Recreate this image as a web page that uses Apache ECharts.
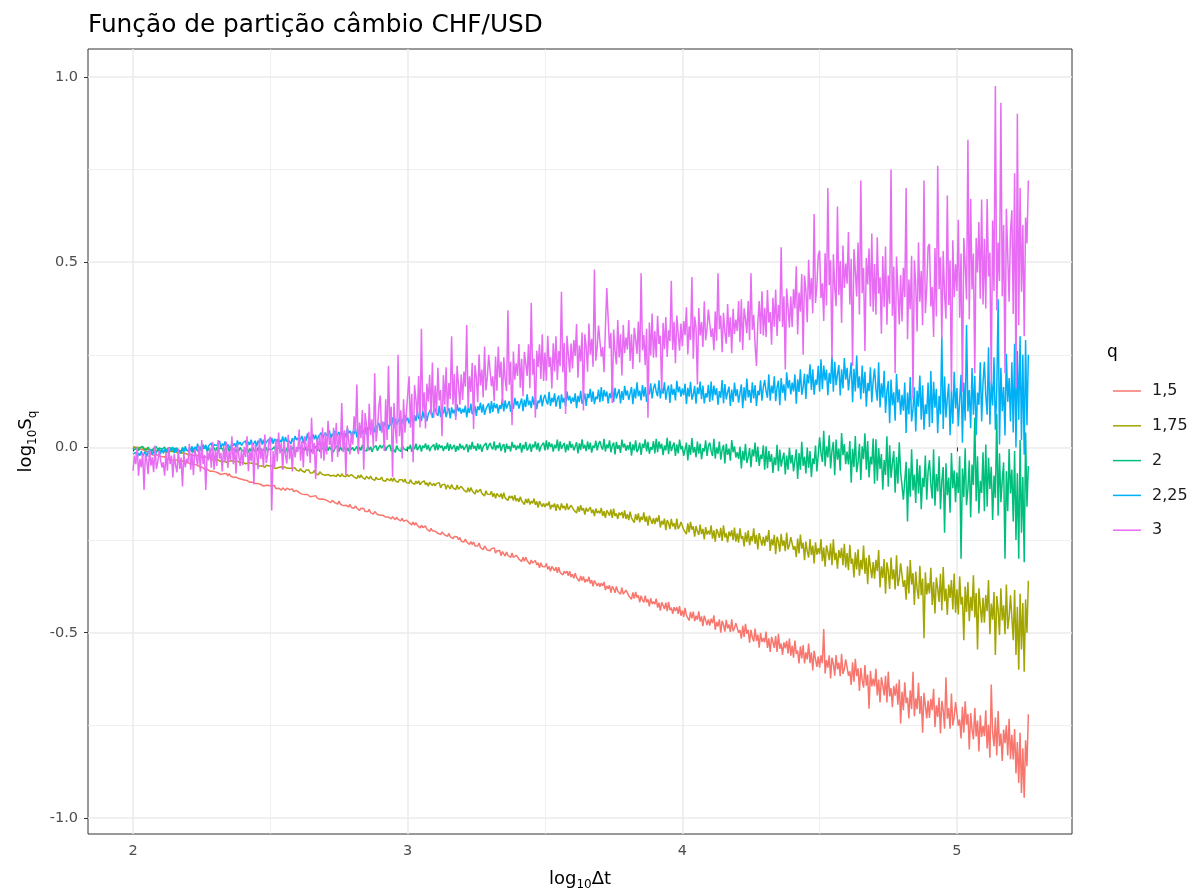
<!DOCTYPE html>
<html>
<head>
<meta charset="utf-8">
<script src="https://cdn.jsdelivr.net/npm/echarts@6/dist/echarts.min.js"></script>
<style>
  html, body { margin: 0; padding: 0; background: #ffffff; }
  #chart { width: 1197px; height: 896px; }
</style>
</head>
<body>
<div id="chart"></div>
<script>
// Partition function log10 S_q versus log10 Δt, one curve per moment q.
// Every curve is sampled on the same log10 Δt grid: 2.000, 2.005, ... 5.260
// (one line of 20 values per 0.1 of log10 Δt).
const X_START = 2.0;
const X_STEP = 0.005;

const qLabels = ['1,5', '1,75', '2', '2,25', '3'];
const qColors = ['#F8766D', '#A3A500', '#00BF7D', '#00B0F6', '#E76BF3'];

const xTicks = [2, 3, 4, 5];
const xMinorTicks = [2.5, 3.5, 4.5];
const yTicks = [-1, -0.5, 0, 0.5, 1];
const yMinorTicks = [-0.75, -0.25, 0.25, 0.75];

// q = 1,5
const s150 = [
  0.001,-0.003,0.000,-0.005,-0.005,-0.009,-0.005,-0.009,-0.008,-0.013,-0.011,-0.014,-0.011,-0.018,-0.016,-0.021,-0.017,-0.020,-0.024,-0.022,
  -0.027,-0.025,-0.027,-0.025,-0.031,-0.029,-0.031,-0.029,-0.035,-0.032,-0.034,-0.037,-0.034,-0.038,-0.037,-0.041,-0.036,-0.041,-0.041,-0.040,
  -0.041,-0.045,-0.045,-0.048,-0.045,-0.050,-0.047,-0.051,-0.051,-0.056,-0.053,-0.056,-0.058,-0.055,-0.059,-0.059,-0.064,-0.060,-0.064,-0.063,
  -0.066,-0.063,-0.069,-0.067,-0.073,-0.068,-0.071,-0.074,-0.070,-0.077,-0.071,-0.077,-0.076,-0.081,-0.077,-0.080,-0.079,-0.084,-0.079,-0.086,
  -0.084,-0.088,-0.084,-0.089,-0.089,-0.094,-0.089,-0.094,-0.090,-0.097,-0.094,-0.097,-0.093,-0.100,-0.097,-0.104,-0.099,-0.102,-0.105,-0.103,
  -0.107,-0.104,-0.106,-0.103,-0.111,-0.108,-0.110,-0.108,-0.115,-0.109,-0.112,-0.116,-0.110,-0.115,-0.114,-0.118,-0.112,-0.119,-0.118,-0.116,
  -0.117,-0.122,-0.122,-0.126,-0.122,-0.127,-0.122,-0.127,-0.126,-0.133,-0.128,-0.132,-0.134,-0.130,-0.136,-0.134,-0.140,-0.135,-0.139,-0.138,
  -0.141,-0.137,-0.145,-0.142,-0.149,-0.143,-0.146,-0.149,-0.145,-0.153,-0.145,-0.153,-0.151,-0.157,-0.152,-0.156,-0.153,-0.160,-0.154,-0.162,
  -0.159,-0.164,-0.158,-0.164,-0.164,-0.170,-0.164,-0.169,-0.165,-0.173,-0.169,-0.173,-0.167,-0.176,-0.172,-0.180,-0.173,-0.177,-0.181,-0.178,
  -0.183,-0.179,-0.183,-0.179,-0.188,-0.184,-0.188,-0.184,-0.193,-0.187,-0.190,-0.195,-0.188,-0.194,-0.193,-0.198,-0.191,-0.199,-0.198,-0.196,
  -0.196,-0.203,-0.203,-0.209,-0.201,-0.210,-0.203,-0.210,-0.208,-0.217,-0.210,-0.216,-0.220,-0.212,-0.220,-0.218,-0.227,-0.218,-0.225,-0.223,
  -0.226,-0.221,-0.232,-0.227,-0.235,-0.228,-0.232,-0.236,-0.231,-0.240,-0.232,-0.241,-0.239,-0.246,-0.240,-0.245,-0.241,-0.249,-0.243,-0.253,
  -0.248,-0.255,-0.247,-0.255,-0.254,-0.262,-0.254,-0.262,-0.255,-0.266,-0.261,-0.266,-0.258,-0.270,-0.265,-0.276,-0.266,-0.271,-0.277,-0.272,
  -0.279,-0.273,-0.278,-0.271,-0.285,-0.279,-0.284,-0.278,-0.292,-0.281,-0.285,-0.293,-0.282,-0.291,-0.288,-0.297,-0.285,-0.297,-0.295,-0.291,
  -0.291,-0.301,-0.300,-0.308,-0.296,-0.307,-0.296,-0.306,-0.303,-0.315,-0.304,-0.312,-0.316,-0.305,-0.317,-0.311,-0.325,-0.311,-0.321,-0.317,
  -0.322,-0.313,-0.329,-0.321,-0.334,-0.321,-0.327,-0.333,-0.323,-0.338,-0.323,-0.337,-0.333,-0.344,-0.334,-0.340,-0.334,-0.346,-0.334,-0.350,
  -0.342,-0.353,-0.339,-0.351,-0.349,-0.361,-0.347,-0.359,-0.348,-0.364,-0.356,-0.362,-0.349,-0.367,-0.358,-0.375,-0.359,-0.366,-0.374,-0.366,
  -0.376,-0.366,-0.374,-0.363,-0.385,-0.374,-0.381,-0.372,-0.392,-0.375,-0.381,-0.392,-0.375,-0.388,-0.384,-0.396,-0.378,-0.396,-0.392,-0.385,
  -0.385,-0.400,-0.397,-0.410,-0.391,-0.408,-0.390,-0.405,-0.399,-0.418,-0.400,-0.412,-0.418,-0.400,-0.418,-0.410,-0.429,-0.407,-0.422,-0.416,
  -0.423,-0.408,-0.432,-0.419,-0.440,-0.418,-0.426,-0.436,-0.419,-0.442,-0.417,-0.439,-0.432,-0.449,-0.431,-0.441,-0.431,-0.449,-0.428,-0.454,
  -0.440,-0.457,-0.433,-0.453,-0.448,-0.467,-0.444,-0.461,-0.443,-0.469,-0.454,-0.465,-0.442,-0.470,-0.456,-0.482,-0.454,-0.466,-0.479,-0.464,
  -0.481,-0.462,-0.474,-0.453,-0.492,-0.471,-0.483,-0.464,-0.500,-0.468,-0.478,-0.497,-0.465,-0.488,-0.478,-0.498,-0.464,-0.496,-0.488,-0.474,
  -0.472,-0.500,-0.493,-0.516,-0.481,-0.511,-0.476,-0.503,-0.492,-0.527,-0.492,-0.512,-0.524,-0.489,-0.522,-0.505,-0.540,-0.500,-0.525,-0.514,
  -0.526,-0.497,-0.541,-0.515,-0.552,-0.511,-0.525,-0.541,-0.509,-0.552,-0.503,-0.543,-0.529,-0.560,-0.526,-0.542,-0.522,-0.556,-0.516,-0.562,
  -0.535,-0.567,-0.521,-0.557,-0.548,-0.583,-0.537,-0.569,-0.533,-0.583,-0.553,-0.572,-0.529,-0.582,-0.553,-0.602,-0.549,-0.571,-0.592,-0.564,
  -0.594,-0.561,-0.582,-0.490,-0.610,-0.574,-0.594,-0.561,-0.623,-0.567,-0.584,-0.616,-0.560,-0.599,-0.581,-0.617,-0.557,-0.611,-0.598,-0.572,
  -0.569,-0.616,-0.604,-0.641,-0.580,-0.632,-0.570,-0.617,-0.596,-0.657,-0.595,-0.628,-0.648,-0.587,-0.643,-0.613,-0.705,-0.603,-0.645,-0.624,
  -0.645,-0.597,-0.669,-0.626,-0.688,-0.620,-0.642,-0.669,-0.616,-0.688,-0.605,-0.672,-0.649,-0.701,-0.643,-0.670,-0.637,-0.694,-0.626,-0.745,
  -0.659,-0.709,-0.634,-0.690,-0.675,-0.731,-0.655,-0.706,-0.605,-0.725,-0.677,-0.706,-0.635,-0.719,-0.671,-0.770,-0.662,-0.696,-0.731,-0.683,
  -0.730,-0.678,-0.709,-0.651,-0.754,-0.696,-0.727,-0.675,-0.772,-0.684,-0.709,-0.759,-0.620,-0.732,-0.703,-0.759,-0.664,-0.750,-0.727,-0.687,
  -0.687,-0.751,-0.734,-0.785,-0.700,-0.770,-0.685,-0.748,-0.719,-0.815,-0.717,-0.761,-0.788,-0.703,-0.780,-0.737,-0.820,-0.723,-0.781,-0.751,
  -0.779,-0.709,-0.812,-0.748,-0.837,-0.640,-0.769,-0.806,-0.729,-0.831,-0.711,-0.806,-0.772,-0.846,-0.761,-0.798,-0.750,-0.831,-0.732,-0.841,
  -0.775,-0.842,-0.760,-0.880,-0.795,-0.905,-0.770,-0.932,-0.812,-0.945,-0.790,-0.860,-0.720
];

// q = 1,75
const s175 = [
  0.002,-0.001,-0.001,-0.004,0.000,-0.004,0.000,-0.003,-0.002,-0.006,-0.003,-0.005,-0.007,-0.003,-0.007,-0.005,-0.009,-0.005,-0.008,-0.007,
  -0.009,-0.006,-0.011,-0.009,-0.013,-0.009,-0.011,-0.013,-0.010,-0.015,-0.011,-0.015,-0.014,-0.018,-0.015,-0.017,-0.015,-0.019,-0.016,-0.021,
  -0.019,-0.022,-0.019,-0.023,-0.022,-0.026,-0.022,-0.026,-0.023,-0.028,-0.026,-0.028,-0.025,-0.030,-0.028,-0.032,-0.028,-0.031,-0.033,-0.031,
  -0.035,-0.032,-0.034,-0.031,-0.038,-0.035,-0.037,-0.034,-0.040,-0.035,-0.037,-0.041,-0.036,-0.040,-0.039,-0.042,-0.037,-0.042,-0.042,-0.040,
  -0.040,-0.045,-0.044,-0.048,-0.042,-0.047,-0.042,-0.046,-0.045,-0.050,-0.045,-0.048,-0.050,-0.045,-0.050,-0.048,-0.054,-0.048,-0.052,-0.050,
  -0.053,-0.049,-0.055,-0.052,-0.057,-0.052,-0.054,-0.056,-0.052,-0.058,-0.052,-0.057,-0.056,-0.060,-0.056,-0.058,-0.056,-0.060,-0.055,-0.061,
  -0.059,-0.064,-0.057,-0.063,-0.062,-0.067,-0.061,-0.066,-0.061,-0.069,-0.065,-0.068,-0.062,-0.070,-0.066,-0.074,-0.066,-0.070,-0.073,-0.070,
  -0.075,-0.070,-0.073,-0.068,-0.077,-0.072,-0.075,-0.071,-0.079,-0.072,-0.074,-0.079,-0.071,-0.077,-0.074,-0.079,-0.072,-0.079,-0.077,-0.073,
  -0.074,-0.080,-0.079,-0.084,-0.075,-0.082,-0.074,-0.081,-0.078,-0.086,-0.078,-0.083,-0.085,-0.077,-0.085,-0.081,-0.089,-0.080,-0.086,-0.083,
  -0.086,-0.080,-0.089,-0.084,-0.091,-0.084,-0.087,-0.090,-0.083,-0.092,-0.082,-0.090,-0.087,-0.094,-0.087,-0.091,-0.087,-0.094,-0.085,-0.095,
  -0.090,-0.097,-0.087,-0.095,-0.093,-0.100,-0.091,-0.098,-0.090,-0.101,-0.095,-0.099,-0.090,-0.101,-0.095,-0.105,-0.094,-0.099,-0.103,-0.097,
  -0.104,-0.097,-0.102,-0.095,-0.109,-0.101,-0.106,-0.099,-0.113,-0.101,-0.105,-0.112,-0.100,-0.109,-0.106,-0.114,-0.101,-0.113,-0.110,-0.105,
  -0.106,-0.115,-0.113,-0.121,-0.109,-0.120,-0.108,-0.117,-0.113,-0.126,-0.114,-0.121,-0.125,-0.113,-0.124,-0.119,-0.131,-0.117,-0.126,-0.122,
  -0.127,-0.118,-0.133,-0.124,-0.137,-0.124,-0.128,-0.134,-0.124,-0.139,-0.122,-0.136,-0.132,-0.143,-0.131,-0.137,-0.131,-0.143,-0.129,-0.145,
  -0.137,-0.147,-0.133,-0.144,-0.142,-0.154,-0.139,-0.150,-0.138,-0.154,-0.145,-0.151,-0.138,-0.155,-0.146,-0.162,-0.145,-0.153,-0.160,-0.151,
  -0.161,-0.151,-0.157,-0.146,-0.167,-0.155,-0.161,-0.151,-0.171,-0.153,-0.158,-0.169,-0.151,-0.164,-0.158,-0.169,-0.151,-0.168,-0.164,-0.156,
  -0.156,-0.169,-0.166,-0.177,-0.159,-0.174,-0.156,-0.170,-0.164,-0.181,-0.163,-0.173,-0.178,-0.161,-0.177,-0.168,-0.185,-0.165,-0.177,-0.171,
  -0.178,-0.163,-0.185,-0.172,-0.190,-0.170,-0.176,-0.184,-0.167,-0.190,-0.165,-0.185,-0.178,-0.193,-0.176,-0.183,-0.174,-0.191,-0.170,-0.193,
  -0.180,-0.196,-0.173,-0.190,-0.186,-0.203,-0.180,-0.196,-0.178,-0.202,-0.187,-0.196,-0.175,-0.201,-0.186,-0.211,-0.184,-0.195,-0.206,-0.191,
  -0.207,-0.190,-0.201,-0.183,-0.216,-0.198,-0.208,-0.192,-0.223,-0.196,-0.204,-0.220,-0.193,-0.213,-0.204,-0.222,-0.192,-0.220,-0.213,-0.201,
  -0.200,-0.222,-0.217,-0.234,-0.205,-0.229,-0.201,-0.222,-0.213,-0.241,-0.212,-0.227,-0.236,-0.208,-0.234,-0.220,-0.248,-0.215,-0.235,-0.225,
  -0.235,-0.210,-0.246,-0.224,-0.254,-0.220,-0.230,-0.244,-0.217,-0.252,-0.210,-0.243,-0.231,-0.256,-0.227,-0.240,-0.223,-0.250,-0.216,-0.254,
  -0.232,-0.257,-0.218,-0.247,-0.239,-0.267,-0.229,-0.255,-0.224,-0.264,-0.239,-0.253,-0.218,-0.260,-0.236,-0.275,-0.231,-0.248,-0.265,-0.241,
  -0.266,-0.238,-0.255,-0.223,-0.279,-0.247,-0.264,-0.236,-0.288,-0.241,-0.254,-0.281,-0.233,-0.266,-0.251,-0.280,-0.230,-0.275,-0.263,-0.242,
  -0.240,-0.276,-0.266,-0.296,-0.246,-0.286,-0.235,-0.273,-0.257,-0.304,-0.254,-0.280,-0.297,-0.247,-0.290,-0.265,-0.313,-0.256,-0.289,-0.272,
  -0.288,-0.247,-0.307,-0.270,-0.322,-0.264,-0.282,-0.304,-0.259,-0.318,-0.248,-0.304,-0.284,-0.327,-0.277,-0.299,-0.271,-0.318,-0.260,-0.324,
  -0.285,-0.331,-0.263,-0.314,-0.300,-0.351,-0.283,-0.329,-0.275,-0.346,-0.303,-0.329,-0.265,-0.341,-0.298,-0.369,-0.290,-0.322,-0.353,-0.309,
  -0.354,-0.303,-0.334,-0.277,-0.378,-0.321,-0.352,-0.301,-0.395,-0.310,-0.334,-0.382,-0.297,-0.356,-0.329,-0.383,-0.291,-0.374,-0.353,-0.313,
  -0.310,-0.376,-0.358,-0.411,-0.321,-0.394,-0.304,-0.370,-0.339,-0.425,-0.335,-0.382,-0.409,-0.319,-0.399,-0.354,-0.515,-0.337,-0.397,-0.366,
  -0.394,-0.325,-0.425,-0.363,-0.448,-0.351,-0.381,-0.417,-0.341,-0.440,-0.323,-0.415,-0.381,-0.452,-0.370,-0.406,-0.358,-0.437,-0.340,-0.446,
  -0.383,-0.451,-0.348,-0.424,-0.403,-0.520,-0.375,-0.444,-0.363,-0.469,-0.403,-0.441,-0.345,-0.459,-0.393,-0.545,-0.380,-0.427,-0.473,-0.406,
  -0.473,-0.398,-0.442,-0.358,-0.504,-0.421,-0.465,-0.390,-0.560,-0.401,-0.437,-0.506,-0.380,-0.467,-0.426,-0.504,-0.370,-0.490,-0.458,-0.399,
  -0.400,-0.520,-0.385,-0.560,-0.430,-0.600,-0.395,-0.545,-0.420,-0.605,-0.410,-0.500,-0.360
];

// q = 2
const s200 = [
  -0.001,-0.007,-0.003,0.001,-0.009,-0.001,-0.006,0.003,-0.005,-0.002,-0.007,0.001,-0.005,0.000,-0.008,-0.002,-0.004,0.002,-0.007,-0.001,
  -0.001,-0.005,-0.007,0.001,-0.009,-0.003,-0.006,0.000,-0.009,-0.004,-0.002,-0.011,-0.001,-0.007,-0.004,-0.010,0.000,-0.006,-0.003,-0.008,
  -0.005,-0.008,-0.002,-0.013,-0.004,-0.009,0.000,-0.010,-0.007,-0.002,-0.012,-0.003,-0.007,0.000,-0.010,-0.002,-0.012,-0.006,-0.008,-0.001,
  -0.010,0.000,-0.010,-0.002,-0.007,-0.003,-0.012,-0.005,-0.008,0.001,-0.011,-0.001,-0.009,-0.005,-0.002,-0.012,-0.004,-0.010,0.000,-0.007,
  -0.004,-0.011,-0.006,-0.001,-0.014,-0.003,-0.010,0.002,-0.008,-0.004,-0.012,0.000,-0.009,-0.002,-0.013,-0.005,-0.008,0.000,-0.011,-0.004,
  0.000,-0.006,-0.009,0.002,-0.011,-0.004,-0.008,0.000,-0.012,-0.005,-0.002,-0.014,-0.001,-0.008,-0.004,-0.012,0.001,-0.007,-0.003,-0.010,
  -0.003,-0.008,0.000,-0.014,-0.002,-0.009,0.002,-0.010,-0.007,-0.001,-0.013,-0.001,-0.006,0.003,-0.010,0.000,-0.012,-0.005,-0.008,0.001,
  -0.010,0.005,-0.009,0.002,-0.005,0.000,-0.012,-0.002,-0.007,0.006,-0.011,0.003,-0.008,-0.003,0.001,-0.013,-0.001,-0.010,0.004,-0.006,
  0.000,-0.009,-0.003,0.003,-0.013,0.001,-0.008,0.007,-0.006,-0.001,-0.010,0.004,-0.007,0.002,-0.012,-0.002,-0.005,0.005,-0.009,0.000,
  0.006,-0.002,-0.006,0.009,-0.009,0.001,-0.004,0.007,-0.010,-0.001,0.004,-0.013,0.005,-0.005,0.000,-0.011,0.008,-0.003,0.002,-0.008,
  0.002,-0.004,0.007,-0.012,0.004,-0.005,0.010,-0.007,-0.002,0.006,-0.011,0.005,-0.001,0.011,-0.006,0.007,-0.010,0.000,-0.004,0.008,
  -0.008,0.012,-0.007,0.008,-0.001,0.005,-0.010,0.003,-0.004,0.013,-0.009,0.009,-0.005,0.001,0.007,-0.012,0.004,-0.008,0.010,-0.003,
  0.005,-0.007,0.001,0.009,-0.013,0.007,-0.006,0.015,-0.003,0.004,-0.009,0.011,-0.005,0.008,-0.012,0.002,-0.002,0.012,-0.007,0.005,
  0.012,0.001,-0.005,0.016,-0.008,0.006,-0.002,0.013,-0.010,0.003,0.009,-0.014,0.010,-0.004,0.004,-0.011,0.015,-0.001,0.007,-0.007,
  0.005,-0.003,0.012,-0.014,0.007,-0.004,0.015,-0.008,-0.001,0.010,-0.012,0.008,0.000,0.016,-0.006,0.012,-0.011,0.002,-0.003,0.013,
  -0.008,0.019,-0.006,0.014,0.001,0.010,-0.011,0.007,-0.002,0.021,-0.010,0.016,-0.004,0.005,0.012,-0.013,0.008,-0.008,0.017,-0.001,
  0.009,-0.008,0.003,0.014,-0.016,0.011,-0.007,0.022,-0.003,0.007,-0.010,0.016,-0.005,0.013,-0.014,0.005,-0.001,0.018,-0.008,0.009,
  0.017,0.002,-0.006,0.023,-0.011,0.008,-0.002,0.019,-0.013,0.004,0.013,-0.019,0.015,-0.004,0.006,-0.015,0.021,0.000,0.010,-0.009,
  0.006,-0.006,0.015,-0.022,0.008,-0.008,0.019,-0.013,-0.004,0.013,-0.020,0.010,-0.001,0.022,-0.011,0.015,-0.017,0.001,-0.006,0.017,
  -0.016,0.023,-0.013,0.016,-0.003,0.010,-0.021,0.005,-0.008,0.026,-0.018,0.018,-0.010,0.003,0.013,-0.023,0.008,-0.016,0.021,-0.005,
  0.004,-0.023,-0.005,0.013,-0.035,0.007,-0.020,0.025,-0.014,0.001,-0.026,0.016,-0.017,0.010,-0.032,-0.002,-0.011,0.019,-0.023,0.004,
  0.013,-0.010,-0.023,0.023,-0.030,0.000,-0.017,0.016,-0.033,-0.007,0.007,-0.043,0.010,-0.020,-0.003,-0.036,0.020,-0.013,0.003,-0.027,
  -0.013,-0.031,0.002,-0.057,-0.009,-0.035,0.010,-0.042,-0.027,-0.002,-0.053,-0.005,-0.024,0.013,-0.039,0.002,-0.050,-0.020,-0.031,0.006,
  -0.060,0.003,-0.056,-0.010,-0.039,-0.018,-0.069,-0.027,-0.048,0.007,-0.064,-0.006,-0.052,-0.031,-0.014,-0.073,-0.022,-0.060,-0.001,-0.043,
  -0.020,-0.065,-0.035,-0.005,-0.085,-0.015,-0.060,0.015,-0.050,-0.025,-0.070,0.000,-0.055,-0.010,-0.080,-0.030,-0.045,0.005,-0.065,-0.020,
  0.027,-0.015,-0.039,0.045,-0.051,0.003,-0.027,0.033,-0.057,-0.009,0.015,-0.075,0.021,-0.033,-0.003,-0.063,0.039,-0.021,0.009,-0.045,
  -0.011,-0.046,0.017,-0.095,-0.004,-0.053,0.031,-0.067,-0.039,0.010,-0.088,0.003,-0.032,0.038,-0.060,0.017,-0.081,-0.025,-0.046,0.024,
  -0.098,0.022,-0.090,-0.002,-0.058,-0.018,-0.114,-0.034,-0.074,0.030,-0.106,0.006,-0.082,-0.042,-0.010,-0.122,-0.026,-0.098,0.014,-0.066,
  -0.065,-0.141,-0.090,-0.039,-0.200,-0.056,-0.133,-0.005,-0.116,-0.073,-0.150,-0.031,-0.124,-0.048,-0.167,-0.082,-0.107,-0.022,-0.141,-0.065,
  -0.034,-0.100,-0.138,-0.005,-0.157,-0.072,-0.119,-0.024,-0.167,-0.091,-0.053,-0.230,-0.043,-0.129,-0.081,-0.176,-0.015,-0.110,-0.062,-0.148,
  -0.068,-0.123,-0.024,-0.300,-0.057,-0.134,-0.002,-0.156,-0.112,-0.035,-0.189,-0.046,-0.101,0.080,-0.145,-0.024,-0.178,-0.090,-0.123,-0.013,
  -0.172,0.008,-0.160,-0.028,-0.112,-0.052,-0.196,-0.076,-0.136,0.090,-0.184,-0.016,-0.148,-0.088,-0.040,-0.300,-0.064,-0.172,-0.004,-0.124,
  -0.060,-0.200,-0.010,-0.250,-0.070,-0.300,0.020,-0.230,-0.080,-0.310,0.040,-0.160,-0.050
];

// q = 2,25
const s225 = [
  -0.018,-0.023,-0.013,-0.029,-0.015,-0.022,-0.010,-0.023,-0.019,-0.011,-0.025,-0.012,-0.016,-0.006,-0.019,-0.008,-0.022,-0.013,-0.016,-0.005,
  -0.018,-0.003,-0.016,-0.005,-0.012,-0.006,-0.018,-0.007,-0.012,0.001,-0.015,-0.001,-0.012,-0.006,-0.002,-0.016,-0.003,-0.012,0.003,-0.007,
  -0.002,-0.011,-0.004,0.003,-0.014,0.002,-0.008,0.010,-0.004,0.002,-0.008,0.008,-0.003,0.007,-0.008,0.004,0.001,0.012,-0.003,0.008,
  0.013,0.005,0.001,0.017,-0.001,0.010,0.004,0.016,-0.001,0.008,0.013,-0.003,0.015,0.005,0.011,0.000,0.019,0.008,0.014,0.005,
  0.012,0.007,0.018,-0.001,0.015,0.007,0.021,0.005,0.010,0.018,0.002,0.018,0.012,0.024,0.008,0.021,0.005,0.014,0.011,0.023,
  0.008,0.026,0.010,0.023,0.015,0.022,0.008,0.020,0.014,0.030,0.010,0.028,0.015,0.021,0.026,0.010,0.025,0.014,0.031,0.020,
  0.026,0.015,0.023,0.031,0.011,0.029,0.018,0.038,0.021,0.028,0.017,0.036,0.022,0.034,0.016,0.030,0.026,0.040,0.022,0.034,
  0.040,0.031,0.026,0.046,0.024,0.037,0.030,0.045,0.024,0.036,0.042,0.022,0.045,0.033,0.040,0.027,0.051,0.038,0.045,0.033,
  0.043,0.036,0.051,0.027,0.048,0.038,0.057,0.037,0.043,0.055,0.034,0.055,0.048,0.064,0.044,0.061,0.041,0.053,0.050,0.066,
  0.045,0.070,0.049,0.068,0.058,0.067,0.049,0.066,0.059,0.081,0.054,0.078,0.061,0.070,0.078,0.056,0.077,0.063,0.087,0.072,
  0.080,0.065,0.077,0.089,0.061,0.087,0.071,0.099,0.077,0.087,0.071,0.098,0.079,0.096,0.071,0.090,0.086,0.105,0.080,0.097,
  0.105,0.092,0.085,0.112,0.082,0.100,0.091,0.110,0.082,0.098,0.106,0.078,0.108,0.092,0.102,0.083,0.116,0.097,0.107,0.091,
  0.104,0.094,0.113,0.081,0.107,0.093,0.118,0.090,0.098,0.112,0.085,0.111,0.101,0.121,0.094,0.116,0.088,0.104,0.099,0.119,
  0.092,0.125,0.096,0.120,0.106,0.117,0.092,0.114,0.104,0.132,0.097,0.127,0.105,0.116,0.125,0.096,0.122,0.104,0.134,0.114,
  0.125,0.105,0.119,0.132,0.098,0.129,0.109,0.143,0.114,0.126,0.106,0.138,0.114,0.134,0.103,0.126,0.120,0.142,0.111,0.132,
  0.142,0.125,0.116,0.150,0.112,0.134,0.122,0.146,0.110,0.130,0.140,0.104,0.143,0.121,0.134,0.110,0.151,0.127,0.139,0.118,
  0.135,0.123,0.146,0.106,0.139,0.122,0.153,0.118,0.128,0.146,0.112,0.145,0.133,0.158,0.123,0.151,0.117,0.137,0.130,0.156,
  0.122,0.163,0.125,0.155,0.137,0.151,0.119,0.146,0.133,0.168,0.123,0.161,0.132,0.146,0.157,0.119,0.152,0.128,0.166,0.140,
  0.154,0.128,0.146,0.163,0.117,0.158,0.132,0.176,0.138,0.153,0.127,0.168,0.137,0.163,0.123,0.152,0.143,0.173,0.132,0.159,
  0.172,0.150,0.138,0.181,0.132,0.160,0.145,0.176,0.129,0.154,0.167,0.120,0.170,0.142,0.158,0.127,0.180,0.149,0.164,0.137,
  0.159,0.141,0.172,0.117,0.161,0.137,0.177,0.129,0.142,0.166,0.118,0.162,0.144,0.178,0.130,0.167,0.119,0.146,0.135,0.169,
  0.123,0.178,0.127,0.167,0.141,0.160,0.115,0.152,0.134,0.182,0.119,0.171,0.130,0.149,0.164,0.112,0.156,0.123,0.175,0.138,
  0.157,0.121,0.146,0.170,0.106,0.162,0.126,0.186,0.135,0.155,0.120,0.176,0.132,0.168,0.112,0.153,0.141,0.181,0.126,0.162,
  0.182,0.151,0.134,0.197,0.126,0.167,0.146,0.192,0.125,0.162,0.180,0.114,0.187,0.147,0.170,0.126,0.203,0.159,0.182,0.143,
  0.175,0.151,0.197,0.118,0.184,0.150,0.211,0.142,0.163,0.199,0.131,0.197,0.173,0.224,0.155,0.211,0.142,0.183,0.169,0.220,
  0.150,0.238,0.157,0.221,0.181,0.210,0.141,0.201,0.172,0.248,0.150,0.231,0.168,0.197,0.222,0.140,0.211,0.159,0.241,0.183,
  0.215,0.154,0.191,0.229,0.122,0.212,0.151,0.248,0.160,0.192,0.130,0.221,0.146,0.204,0.110,0.174,0.152,0.216,0.122,0.180,
  0.213,0.158,0.126,0.230,0.108,0.173,0.134,0.207,0.093,0.151,0.179,0.065,0.183,0.114,0.149,0.072,0.198,0.121,0.157,0.088,
  0.142,0.099,0.175,0.039,0.148,0.089,0.190,0.070,0.104,0.162,0.043,0.153,0.110,0.194,0.075,0.168,0.048,0.116,0.090,0.175,
  0.055,0.206,0.066,0.177,0.107,0.158,0.038,0.139,0.089,0.300,0.050,0.191,0.081,0.132,0.172,0.033,0.154,0.064,0.204,0.105,
  0.160,0.057,0.127,0.196,0.013,0.175,0.072,0.330,0.097,0.155,0.052,0.214,0.088,0.193,0.033,0.148,0.115,0.230,0.070,0.175,
  0.231,0.140,0.088,0.270,0.062,0.178,0.113,0.243,0.048,0.151,0.400,0.008,0.215,0.098,0.163,0.032,0.253,0.123,0.187,0.070,
  0.230,0.040,0.280,0.000,0.260,0.075,0.300,0.020,0.250,-0.020,0.290,0.060,0.250
];

// q = 3
const s300 = [
  -0.063,-0.022,-0.045,0.001,-0.076,-0.031,-0.054,-0.013,-0.115,-0.018,-0.036,-0.072,-0.004,-0.049,-0.027,-0.067,0.005,-0.058,-0.040,-0.009,
  -0.009,-0.054,-0.040,-0.076,-0.013,-0.063,0.001,-0.045,-0.022,-0.081,-0.018,-0.049,-0.067,-0.004,-0.058,-0.027,-0.105,-0.013,-0.054,-0.031,
  -0.040,0.010,-0.060,-0.015,-0.075,-0.005,-0.025,-0.050,0.005,-0.065,0.020,-0.045,-0.020,-0.115,-0.010,-0.035,0.000,-0.055,0.015,-0.060,
  -0.005,-0.050,0.020,-0.030,-0.015,-0.065,0.005,-0.040,0.015,-0.055,-0.010,-0.035,0.030,-0.045,0.000,-0.070,0.010,-0.020,-0.050,-0.005,
  -0.048,0.002,-0.026,0.030,-0.064,-0.009,-0.037,0.013,-0.100,0.008,-0.015,-0.059,0.024,-0.031,-0.004,-0.053,0.035,-0.042,-0.020,0.019,
  0.029,-0.170,-0.010,-0.054,0.023,-0.038,0.040,-0.016,0.012,-0.060,0.018,-0.021,-0.043,0.034,-0.032,0.007,-0.065,0.023,-0.027,0.001,
  -0.012,0.048,-0.036,0.018,-0.054,0.030,0.006,-0.024,0.042,-0.042,0.080,-0.018,0.012,-0.085,0.024,-0.006,0.036,-0.030,0.054,-0.036,
  0.040,-0.019,0.072,0.007,0.027,-0.039,0.053,-0.006,0.066,-0.026,0.033,0.001,0.120,-0.013,0.046,-0.075,0.059,0.020,-0.019,0.040,
  0.008,0.084,0.042,0.170,-0.018,0.067,0.025,0.101,-0.060,0.093,0.059,-0.010,0.118,0.033,0.076,-0.001,0.200,0.016,0.050,0.110,
  0.140,0.040,0.070,-0.010,0.130,0.020,0.220,0.060,0.110,-0.080,0.120,0.050,0.010,0.250,0.030,0.100,-0.030,0.130,0.040,0.090,
  0.090,0.192,0.053,0.145,-0.040,0.168,0.130,0.081,0.193,0.054,0.320,0.098,0.149,0.051,0.172,0.124,0.196,0.087,0.229,0.080,
  0.167,0.088,0.215,0.127,0.155,0.030,0.195,0.115,0.216,0.091,0.174,0.131,0.300,0.116,0.198,0.074,0.220,0.167,0.115,0.197,
  0.128,0.205,0.164,0.330,0.106,0.192,0.150,0.228,0.050,0.222,0.189,0.122,0.251,0.167,0.210,0.135,0.272,0.154,0.189,0.250,
  0.250,0.165,0.192,0.125,0.245,0.153,0.272,0.189,0.232,0.119,0.243,0.184,0.152,0.370,0.169,0.231,0.060,0.259,0.183,0.227,
  0.193,0.279,0.161,0.239,0.138,0.258,0.225,0.193,0.278,0.160,0.390,0.196,0.240,0.080,0.261,0.217,0.278,0.185,0.305,0.179,
  0.256,0.180,0.301,0.217,0.244,0.159,0.281,0.205,0.300,0.182,0.260,0.219,0.420,0.203,0.282,0.090,0.301,0.251,0.202,0.280,
  0.213,0.290,0.247,0.333,0.188,0.275,0.232,0.310,0.100,0.305,0.272,0.204,0.334,0.250,0.293,0.218,0.480,0.234,0.269,0.329,
  0.330,0.245,0.271,0.203,0.322,0.430,0.348,0.267,0.309,0.120,0.318,0.259,0.224,0.344,0.243,0.305,0.194,0.330,0.254,0.297,
  0.264,0.344,0.233,0.305,0.212,0.323,0.291,0.252,0.340,0.229,0.470,0.262,0.303,0.222,0.320,0.080,0.337,0.248,0.361,0.242,
  0.314,0.243,0.355,0.279,0.302,0.150,0.336,0.265,0.352,0.244,0.316,0.287,0.450,0.263,0.339,0.227,0.356,0.307,0.261,0.334,
  0.273,0.341,0.303,0.378,0.251,0.327,0.290,0.460,0.239,0.353,0.323,0.170,0.376,0.302,0.338,0.271,0.394,0.289,0.319,0.372,
  0.373,0.298,0.321,0.262,0.367,0.288,0.470,0.319,0.356,0.257,0.363,0.311,0.280,0.387,0.298,0.351,0.254,0.374,0.306,0.345,
  0.314,0.395,0.284,0.400,0.263,0.375,0.347,0.308,0.395,0.289,0.470,0.317,0.358,0.278,0.220,0.337,0.395,0.306,0.421,0.302,
  0.377,0.298,0.425,0.337,0.365,0.277,0.404,0.325,0.426,0.301,0.384,0.340,0.540,0.325,0.408,0.210,0.429,0.377,0.324,0.407,
  0.325,0.427,0.375,0.489,0.305,0.418,0.366,0.468,0.250,0.464,0.423,0.338,0.506,0.399,0.457,0.362,0.630,0.390,0.437,0.517,
  0.531,0.403,0.443,0.341,0.524,0.383,0.700,0.438,0.505,0.240,0.521,0.432,0.381,0.650,0.411,0.503,0.336,0.545,0.430,0.496,
  0.442,0.581,0.386,0.509,0.220,0.535,0.477,0.407,0.553,0.359,0.720,0.416,0.485,0.260,0.511,0.440,0.537,0.380,0.577,0.366,
  0.495,0.358,0.567,0.415,0.459,0.307,0.516,0.379,0.542,0.331,0.464,0.388,0.750,0.355,0.488,0.200,0.515,0.423,0.332,0.465,
  0.340,0.485,0.405,0.700,0.292,0.453,0.373,0.517,0.130,0.505,0.441,0.313,0.553,0.393,0.476,0.330,0.720,0.362,0.429,0.542,
  0.549,0.380,0.433,0.298,0.538,0.353,0.760,0.427,0.513,0.293,0.530,0.413,0.347,0.680,0.384,0.504,0.150,0.559,0.405,0.494,
  0.422,0.614,0.350,0.523,0.150,0.565,0.492,0.399,0.830,0.346,0.671,0.426,0.523,0.200,0.565,0.472,0.608,0.401,0.669,0.386,
  0.563,0.375,0.670,0.461,0.526,0.170,0.612,0.422,0.975,0.370,0.553,0.449,0.930,0.408,0.600,0.200,0.644,0.518,0.393,0.582,
  0.640,0.360,0.740,0.160,0.900,0.330,0.700,0.420,0.600,0.300,0.620,0.550,0.720
];

const seriesValues = [s150, s175, s200, s225, s300];

// Shared log10 Δt sampling grid (rounded to the 0.005 step)
const logDt = s150.map((_, i) => Math.round((X_START + i * X_STEP) * 1000) / 1000);

const FONT = 'DejaVu Sans';
const GRID_COLOR = '#EBEBEB';

const chart = echarts.init(document.getElementById('chart'), null, { renderer: 'canvas' });

const series = seriesValues.map((vals, k) => ({
  name: qLabels[k],
  type: 'line',
  xAxisIndex: 0,
  yAxisIndex: 0,
  data: vals.map((v, i) => [logDt[i], v]),
  showSymbol: false,
  symbol: 'none',
  smooth: false,
  sampling: false,
  lineStyle: { color: qColors[k], width: 1.5 },
  itemStyle: { color: qColors[k] },
  emphasis: { disabled: true },
  z: 2 + k
}));

const option = {
  backgroundColor: '#ffffff',
  animation: false,
  title: {
    text: 'Função de partição câmbio CHF/USD',
    left: 88,
    top: 13,
    padding: 0,
    textStyle: { fontFamily: FONT, fontSize: 24.8, fontWeight: 'normal', color: '#000000' }
  },
  grid: {
    left: 88, right: 125, top: 49, bottom: 59,
    show: true, borderColor: '#333333', borderWidth: 1, backgroundColor: 'transparent'
  },
  legend: {
    orient: 'vertical',
    left: 1108,
    top: 378,
    itemWidth: 28,
    itemHeight: 16,
    itemGap: 18.8,
    icon: 'path://M0,0 L28,0 L28,1.5 L0,1.5 Z',
    data: qLabels,
    textStyle: { fontFamily: FONT, fontSize: 16, color: '#1a1a1a', padding: [0, 0, 0, 6] },
    selectedMode: false
  },
  graphic: [{
    type: 'text',
    left: 1107,
    top: 344,
    style: { text: 'q', font: '17px "DejaVu Sans"', fill: '#000000' }
  }],
  xAxis: [{
    type: 'value',
    min: 1.836,
    max: 5.419,
    name: '{m|log}{s|10}{m|Δt}',
    nameLocation: 'middle',
    nameGap: 33,
    nameTextStyle: {
      rich: {
        m: { fontFamily: FONT, fontSize: 18, color: '#000000', lineHeight: 24, verticalAlign: 'middle' },
        s: { fontFamily: FONT, fontSize: 12, color: '#000000', lineHeight: 12, verticalAlign: 'bottom' }
      }
    },
    axisLine: { show: false },
    axisTick: { show: true, length: 4, customValues: xTicks, lineStyle: { color: '#333333', width: 1 } },
    axisLabel: {
      customValues: xTicks, margin: 10,
      fontFamily: FONT, fontSize: 14.5, color: '#4D4D4D',
      formatter: v => String(v)
    },
    splitLine: { show: true, lineStyle: { color: GRID_COLOR, width: 1.5 } }
  }, {
    type: 'value',
    min: 1.836,
    max: 5.419,
    position: 'bottom',
    axisLine: { show: false },
    axisTick: { show: false, customValues: xMinorTicks },
    axisLabel: { show: false, customValues: xMinorTicks },
    splitLine: { show: true, lineStyle: { color: GRID_COLOR, width: 0.8 } }
  }],
  yAxis: [{
    type: 'value',
    min: -1.043,
    max: 1.075,
    name: '{m|log}{s|10}{m|S}{s|q}',
    nameLocation: 'middle',
    nameRotate: 90,
    nameGap: 46,
    nameTextStyle: {
      rich: {
        m: { fontFamily: FONT, fontSize: 18, color: '#000000', lineHeight: 24, verticalAlign: 'middle' },
        s: { fontFamily: FONT, fontSize: 12, color: '#000000', lineHeight: 12, verticalAlign: 'bottom' }
      }
    },
    axisLine: { show: false },
    axisTick: { show: true, length: 4, customValues: yTicks, lineStyle: { color: '#333333', width: 1 } },
    axisLabel: {
      customValues: yTicks, margin: 10,
      fontFamily: FONT, fontSize: 14.5, color: '#4D4D4D',
      formatter: v => v.toFixed(1)
    },
    splitLine: { show: true, lineStyle: { color: GRID_COLOR, width: 1.5 } }
  }, {
    type: 'value',
    min: -1.043,
    max: 1.075,
    position: 'left',
    axisLine: { show: false },
    axisTick: { show: false, customValues: yMinorTicks },
    axisLabel: { show: false, customValues: yMinorTicks },
    splitLine: { show: true, lineStyle: { color: GRID_COLOR, width: 0.8 } }
  }],
  series: series
};

chart.setOption(option);
</script>
</body>
</html>
